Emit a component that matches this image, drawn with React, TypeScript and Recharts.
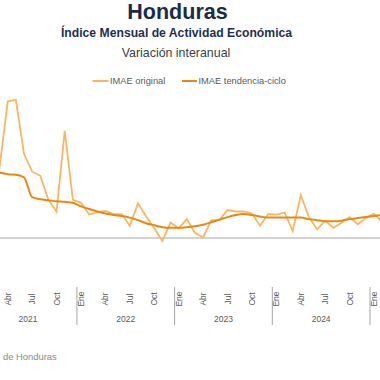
import React from "react";
import { LineChart, Line, XAxis, YAxis, ReferenceLine } from "recharts";

// Monthly data, Jan 2021 (index 0) .. Feb 2025 (index 49), year-on-year %
const monthNames = ["Ene", "Feb", "Mar", "Abr", "May", "Jun", "Jul", "Ago", "Sep", "Oct", "Nov", "Dic"];
const yearLabels = ["2021", "2022", "2023", "2024"];
const seriesNames = ["IMAE original", "IMAE tendencia-ciclo"];

const imaeOriginal = [
  -3.0, -1.0, 13.9, 26.8, 27.1, 16.5, 13.0, 12.2, 7.5, 5.2, 21.0, 7.5,
  6.9, 4.6, 5.0, 5.3, 4.7, 4.7, 2.4, 6.8, 4.2, 1.9, -0.6, 3.0,
  1.9, 3.7, 1.0, 0.1, 3.5, 3.5, 5.5, 5.2, 5.2, 4.8, 2.4, 4.7,
  4.6, 5.0, 1.4, 8.4, 4.1, 1.7, 3.4, 2.0, 3.0, 4.1, 2.7, 3.9,
  4.8, 3.1,
];
const imaeTendencia = [
  10.5, 12.0, 12.8, 12.5, 12.4, 11.9, 8.0, 7.6, 7.4, 7.2, 7.1, 6.9,
  6.2, 5.7, 5.2, 4.8, 4.5, 4.3, 4.0, 3.5, 2.9, 2.5, 2.1, 2.0,
  2.0, 2.1, 2.3, 2.6, 3.1, 3.6, 4.1, 4.5, 4.7, 4.5, 4.2, 4.0,
  4.0, 4.0, 4.0, 4.0, 3.7, 3.5, 3.3, 3.3, 3.4, 3.7, 3.9, 4.1,
  4.3, 4.5,
];
const sourceText = "de Honduras";

const data = imaeOriginal.map((v, i) => ({ m: i, original: v, tendencia: imaeTendencia[i] }));

const X_DOMAIN: [number, number] = [2.05, 48.73];
const monthTicks = data.filter((d) => d.m % 3 === 0 && d.m >= X_DOMAIN[0] && d.m <= X_DOMAIN[1]).map((d) => d.m);
const separatorTicks = yearLabels.map((_, i) => 12 * (i + 1) - 0.5);
const yearTicks = yearLabels.map((_, i) => 12 * i + 5.5);
const allTicks = [...monthTicks, ...separatorTicks, ...yearTicks].sort((a, b) => a - b);

const FONT = "'Liberation Sans', Arial, sans-serif";
const ORANGE_LIGHT = "#FBB562";
const ORANGE_DARK = "#E8890F";
const AXIS_GRAY = "#A6A6A6";
const TEXT_GRAY = "#595959";

const Tick = (props: any) => {
  const { x, y, payload } = props;
  const v = payload.value as number;
  if (v % 1 !== 0) {
    if ((v + 0.5) % 12 === 0) {
      return <line x1={x} x2={x} y1={y + 28.6} y2={y + 66.6} stroke={AXIS_GRAY} strokeWidth={1} />;
    }
    const yi = Math.round((v - 5.5) / 12);
    return (
      <text x={x} y={y + 63.8} textAnchor="middle" fontSize={8.5} fontFamily={FONT} fill={TEXT_GRAY}>
        {yearLabels[yi]}
      </text>
    );
  }
  const cy = y + 40.6;
  return (
    <text
      x={x}
      y={cy}
      transform={`rotate(-90, ${x}, ${cy})`}
      textAnchor="middle"
      dominantBaseline="central"
      fontSize={8.5}
      fontFamily={FONT}
      fill={TEXT_GRAY}
    >
      {monthNames[v % 12]}
    </text>
  );
};

export default function App() {
  return (
    <div style={{ position: "absolute", left: 0, top: 0, width: 380, height: 380, overflow: "hidden", background: "#fff" }}>
      <LineChart width={380} height={380} data={data} margin={{ top: 85, right: 0, left: 0, bottom: 51.6 }}>
        <XAxis
          dataKey="m"
          type="number"
          domain={X_DOMAIN}
          allowDataOverflow
          ticks={allTicks}
          interval={0}
          tick={<Tick />}
          axisLine={false}
          tickLine={false}
          tickSize={0}
          tickMargin={0}
          height={70}
        />
        <YAxis hide type="number" domain={[-4, 30]} allowDataOverflow />
        <ReferenceLine y={0} stroke={AXIS_GRAY} strokeWidth={1} />
        <Line
          dataKey="original"
          name={seriesNames[0]}
          type="linear"
          stroke={ORANGE_LIGHT}
          strokeWidth={1.8}
          dot={false}
          isAnimationActive={false}
        />
        <Line
          dataKey="tendencia"
          name={seriesNames[1]}
          type="monotone"
          stroke={ORANGE_DARK}
          strokeWidth={2}
          dot={false}
          isAnimationActive={false}
        />
      </LineChart>
      <svg width={380} height={380} style={{ position: "absolute", left: 0, top: 0, pointerEvents: "none" }}>
        <text x={177.5} y={19.3} textAnchor="middle" fontFamily={FONT} fontWeight="bold" fontSize={21.5} fill="#1b2b47">
          Honduras
        </text>
        <text x={176.5} y={37.4} textAnchor="middle" fontFamily={FONT} fontWeight="bold" fontSize={12.2} fill="#1f2f4f">
          Índice Mensual de Actividad Económica
        </text>
        <text x={176} y={57.3} textAnchor="middle" fontFamily={FONT} fontSize={12.4} fill="#3a3f4a">
          Variación interanual
        </text>
        <line x1={92.5} x2={108.5} y1={81} y2={81} stroke={ORANGE_LIGHT} strokeWidth={2} />
        <text x={110} y={84.3} fontFamily={FONT} fontSize={9.3} fill={TEXT_GRAY}>
          {seriesNames[0]}
        </text>
        <line x1={182} x2={197} y1={81} y2={81} stroke={ORANGE_DARK} strokeWidth={2} />
        <text x={198.5} y={84.3} fontFamily={FONT} fontSize={9.3} fill={TEXT_GRAY}>
          {seriesNames[1]}
        </text>
        <text x={3} y={359.5} fontFamily={FONT} fontSize={9.4} fill="#8a8a8a">
          {sourceText}
        </text>
      </svg>
    </div>
  );
}
